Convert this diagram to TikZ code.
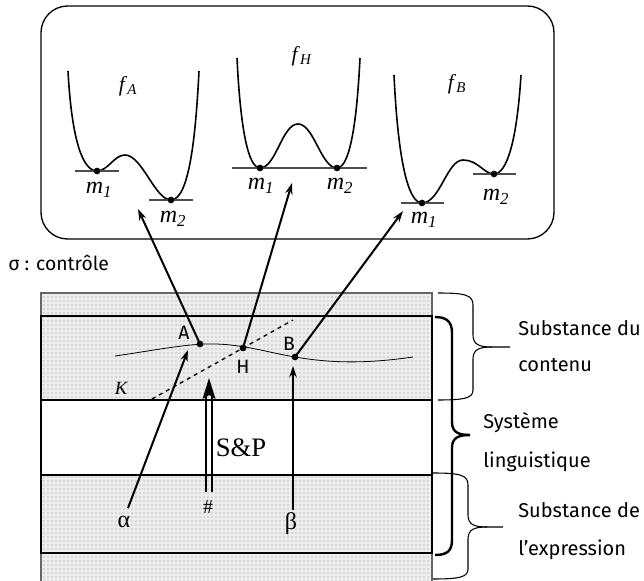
\documentclass[tikz,border=0pt]{standalone}
\usepackage{fontspec}
\setmainfont{Liberation Serif}
\setsansfont{Fira Sans}
\usetikzlibrary{arrows.meta,patterns,calc}
\newcommand{\mlab}[1]{\textit{m}\textsubscript{\textit{#1}}}
\newcommand{\flab}[1]{\textit{f}\textsubscript{\textit{#1}}}
\tikzset{
  px/.style={x=0.75pt,y=-0.75pt},
  well/.style={line width=1.2pt,black},
  minline/.style={line width=0.9pt,black!70},
  ptr/.style={line width=1.5pt,-{Stealth[length=8.5pt,width=5.5pt]}},
  thickbox/.style={line width=2pt},
  thinbox/.style={line width=0.8pt,black!60},
  stipbg/.style={fill=black!7},
  stip/.style={pattern=dots,pattern color=black!45},
  brace/.style={line width=0.8pt},
  bigbrace/.style={line width=1.8pt},
  dot/.style={circle,fill=black,inner sep=0pt,minimum size=5pt},
  lab/.style={font=\sffamily\fontsize{15}{17}\selectfont,anchor=west,inner sep=0pt},
  ml/.style={font=\fontsize{18}{20}\selectfont,inner sep=0pt},
  fl/.style={font=\fontsize{16}{18}\selectfont,inner sep=0pt},
  pl/.style={font=\sffamily\fontsize{14.5}{16}\selectfont,inner sep=0pt},
}
\begin{document}
\begin{tikzpicture}[px]
\useasboundingbox (0,0) rectangle (644,581);
% top rounded frame
\draw[line width=1pt,rounded corners=20] (41,6) rectangle (554,239);
% f_A
\draw[well] (68,71) .. controls (72,145) and (84,171) .. (97,171)
  .. controls (108,171) and (114,155) .. (125,155)
  .. controls (142,155) and (155,200) .. (171,200)
  .. controls (190,200) and (196,130) .. (199,71);
\draw[minline] (75,171) -- (119,171);
\draw[minline] (149,200) -- (193,200);
\node[dot] (a1) at (97,171) {};
\node[dot] (a2) at (171,200) {};
\node[fl] (fA) at (128,86) {\flab{A}};
\node[ml] (ma1) at (99,190) {\mlab{1}};
\node[ml] (ma2) at (173,219) {\mlab{2}};
% f_H
\draw[well] (237,58) .. controls (241,140) and (250,168) .. (260,168)
  .. controls (276,168) and (282,124) .. (298,124)
  .. controls (314,124) and (321,168) .. (337,168)
  .. controls (347,168) and (356,140) .. (360,58);
\draw[minline] (232,168) -- (367,168);
\node[dot] (h1) at (260,168) {};
\node[dot] (h2) at (337,168) {};
\node[fl] (fH) at (302,56) {\flab{H}};
\node[ml] (mh1) at (261,186) {\mlab{1}};
\node[ml] (mh2) at (340,186) {\mlab{2}};
% f_B
\draw[well] (394,75) .. controls (398,160) and (408,203) .. (422,203)
  .. controls (440,203) and (447,160) .. (463,160)
  .. controls (478,160) and (484,174) .. (494,174)
  .. controls (507,174) and (517,140) .. (521,75);
\draw[minline] (401,203) -- (444,203);
\draw[minline] (473,174) -- (516,174);
\node[dot] (b1) at (422,203) {};
\node[dot] (b2) at (494,174) {};
\node[fl] (fB) at (457,84) {\flab{B}};
\node[ml] (mb1) at (424,220) {\mlab{1}};
\node[ml] (mb2) at (496,197) {\mlab{2}};
% sigma
\node[pl,anchor=west] (sig) at (8,263) {σ : contrôle};
% bands
\fill[stipbg] (41,293) rectangle (432,400);
\fill[stipbg] (41,475) rectangle (432,581);
\fill[stip] (41,293) rectangle (432,400);
\fill[stip] (41,475) rectangle (432,581);
\draw[thinbox] (41,316) -- (41,293) -- (432,293) -- (432,316);
\draw[line width=1.2pt] (41,400) -- (41,475) (432,400) -- (432,475);
\draw[thinbox] (41,553) -- (41,581) (432,553) -- (432,581);
\draw[thickbox] (41,316) rectangle (432,400);
\draw[line width=1.2pt] (41,475) -- (432,475);
\draw[thickbox] (41,475) -- (41,553) -- (432,553) -- (432,475);
% wavy line
\draw[line width=0.6pt] (115,356) .. controls (150,351) and (180,345) .. (205,344)
  .. controls (240,343) and (265,352) .. (295,357)
  .. controls (330,363) and (365,364) .. (413,357);
\draw[dashed,line width=1pt] (152,399) -- (293,320);
\node[dot] (A) at (200,344) {};
\node[dot] (H) at (243,348) {};
\node[dot] (B) at (295,357) {};
\node[pl] (Al) at (184,333) {A};
\node[pl] (Hl) at (243,367) {H};
\node[pl] (Bl) at (289,344) {B};
\node[inner sep=0pt,font=\itshape\fontsize{14}{16}\selectfont] (K) at (121,388) {K};
% arrows to wells
\coordinate (tA) at (138,209);
\coordinate (tH) at (292,183);
\coordinate (tB) at (403,211);
\draw[ptr] (A.center) -- (tA);
\draw[ptr] (H.center) -- (tH);
\draw[ptr] (B.center) -- (tB);
% bottom arrows
\node[ml] (al) at (124,522) {α};
\node[inner sep=0pt,font=\fontsize{15}{17}\selectfont] (hs) at (208,507) {\#};
\node[ml] (be) at (291,524) {β};
\node[inner sep=0pt,font=\fontsize{20}{22}\selectfont] (SP) at (241,448) {S\&P};
\coordinate (tal) at (188,350);
\coordinate (talS) at (128,508);
\draw[ptr] (talS) -- (tal);
\coordinate (hsS) at (209,492);
\coordinate (hsB) at (209,396);
\coordinate (hsT) at (209,378);
\draw[line width=1.5pt] ($(hsS)+(-3,0)$) -- ($(hsB)+(-3,0)$);
\draw[line width=1.5pt] ($(hsS)+(3,0)$) -- ($(hsB)+(3,0)$);
\fill (hsT) -- ($(hsT)+(6.5,21)$) -- ($(hsT)+(0,17)$) -- ($(hsT)+(-6.5,21)$) -- cycle;
\coordinate (beS) at (293,510);
\coordinate (beT) at (293,366);
\draw[ptr] (beS) -- (beT);
% braces
\draw[brace] (438,293) .. controls (465,293) and (473,295) .. (473,305) -- (473,335)
  .. controls (473,345) and (480,347) .. (492,347) -- (510,347);
\draw[brace] (492,347) .. controls (480,347) and (473,349) .. (473,359) -- (473,390)
  .. controls (473,398) and (465,400) .. (438,400);
\draw[bigbrace] (435,317) .. controls (447,317) and (452,322) .. (452,333) -- (452,422)
  .. controls (452,432) and (458,435) .. (470,435);
\draw[bigbrace] (470,435) .. controls (458,435) and (452,438) .. (452,448) -- (452,540)
  .. controls (452,551) and (447,555) .. (435,555);
\draw[brace] (433,473) .. controls (460,473) and (468,475) .. (468,485) -- (468,515)
  .. controls (468,525) and (475,527) .. (487,527) -- (503,527);
\draw[brace] (487,527) .. controls (475,527) and (468,529) .. (468,539) -- (468,569)
  .. controls (468,577) and (460,579) .. (433,579);
% right labels
\node[lab] (s1) at (518,328) {Substance du};
\node[lab] (s2) at (518,365) {contenu};
\node[lab] (s3) at (483,423) {Système};
\node[lab] (s4) at (483,462) {linguistique};
\node[lab] (s5) at (518,510) {Substance de};
\node[lab] (s6) at (518,550) {l’expression};
\end{tikzpicture}
\end{document}
